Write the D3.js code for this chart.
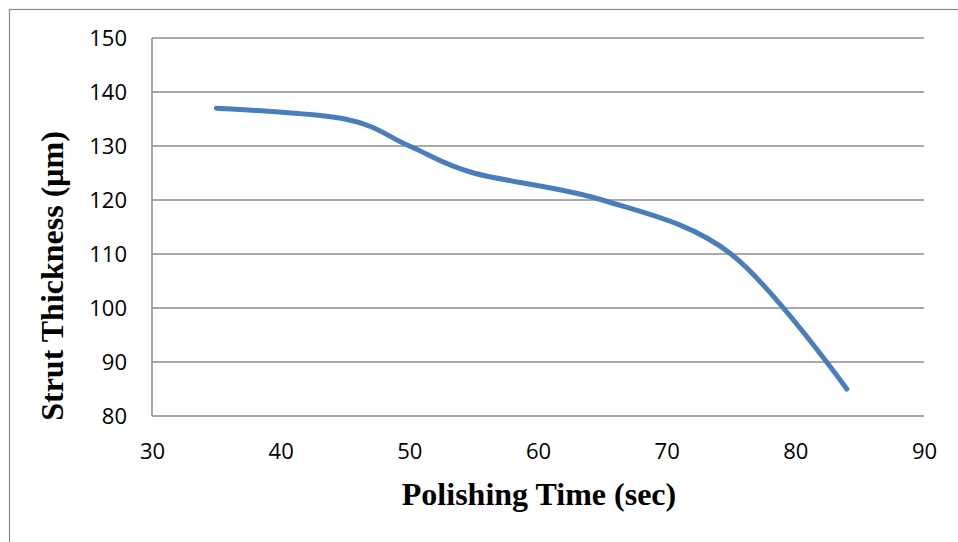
<!DOCTYPE html>
<html>
<head>
<meta charset="utf-8">
<script src="https://cdn.jsdelivr.net/npm/d3@7"></script>
<style>
  body { margin: 0; background: #fff; }
</style>
</head>
<body>
<svg id="chart" width="958" height="542"></svg>
<script>
// data
const times = [35, 45, 50, 55, 65, 75, 84];
const thickness = [137, 135, 130, 125, 120, 110, 85];
const xTicks = [30, 40, 50, 60, 70, 80, 90];
const yTicks = [80, 90, 100, 110, 120, 130, 140, 150];

const svg = d3.select("#chart");

// outer frame (runs off the right/bottom edges)
svg.append("rect")
    .attr("x", 9.5).attr("y", 9.5)
    .attr("width", 1000).attr("height", 600)
    .attr("fill", "none")
    .attr("stroke", "#8a8a8a")
    .attr("stroke-width", 1.2);

const margin = { top: 38, right: 34, bottom: 126, left: 152 };
const width = 958 - margin.left - margin.right;
const height = 542 - margin.top - margin.bottom;
const g = svg.append("g").attr("transform", `translate(${margin.left},${margin.top})`);

const x = d3.scaleLinear().domain([30, 90]).range([0, width]);
const y = d3.scaleLinear().domain([80, 150]).range([height, 0]);

// horizontal gridlines
g.selectAll(".grid")
    .data(yTicks)
    .enter().append("line")
    .attr("class", "grid")
    .attr("x1", 0).attr("x2", width)
    .attr("y1", d => y(d)).attr("y2", d => y(d))
    .attr("stroke", "#8c8c8c")
    .attr("stroke-width", 1.5);

// left axis line
g.append("line")
    .attr("x1", 0).attr("x2", 0)
    .attr("y1", 0).attr("y2", height)
    .attr("stroke", "#8c8c8c")
    .attr("stroke-width", 1.5);

// y tick labels
const yAxis = g.append("g")
    .call(d3.axisLeft(y).tickValues(yTicks).tickSize(0).tickPadding(25));
yAxis.select(".domain").remove();
yAxis.selectAll("text")
    .style("font-family", "'Open Sans', 'Noto Sans', sans-serif")
    .style("font-size", "22px")
    .attr("fill", "#000");

// x tick labels
const xAxis = g.append("g")
    .attr("transform", `translate(0,${height})`)
    .call(d3.axisBottom(x).tickValues(xTicks).tickSize(0).tickPadding(27));
xAxis.select(".domain").remove();
xAxis.selectAll("text")
    .style("font-family", "'Open Sans', 'Noto Sans', sans-serif")
    .style("font-size", "22px")
    .attr("fill", "#000");

// the smoothed series
const pts = times.map((t, i) => [t, thickness[i]]);
g.append("path")
    .datum(pts)
    .attr("fill", "none")
    .attr("stroke", "#4a7ebb")
    .attr("stroke-width", 5)
    .attr("stroke-linecap", "round")
    .attr("d", d3.line()
        .x(d => x(d[0]))
        .y(d => y(d[1]))
        .curve(d3.curveCatmullRom.alpha(0)));

// axis titles
svg.append("text")
    .attr("text-anchor", "middle")
    .attr("x", 539)
    .attr("y", 505)
    .style("font-family", "'Liberation Serif', 'Times New Roman', serif")
    .style("font-weight", "bold")
    .style("font-size", "32px")
    .text("Polishing Time (sec)");

svg.append("text")
    .attr("text-anchor", "middle")
    .attr("transform", "translate(63,276) rotate(-90)")
    .style("font-family", "'Liberation Serif', 'Times New Roman', serif")
    .style("font-weight", "bold")
    .style("font-size", "32px")
    .text("Strut Thickness (μm)");
</script>
</body>
</html>
